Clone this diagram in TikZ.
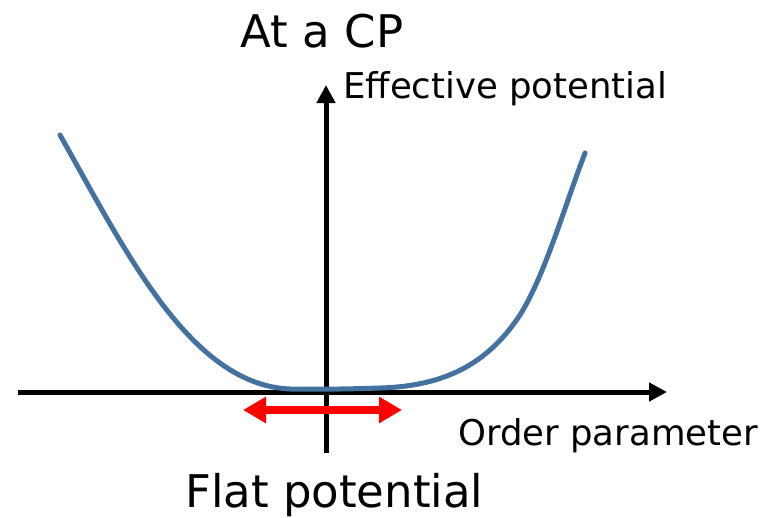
\documentclass[tikz,border=0pt]{standalone}
\usepackage{fontspec}
\setmainfont{DejaVu Sans}
\usetikzlibrary{arrows.meta}

\begin{document}
\begin{tikzpicture}[
  x=1pt, y=-1pt,
  axis/.style={line width=5pt, -{Triangle[length=18pt, width=18pt]}},
  curve/.style={line width=5pt, draw={rgb,255:red,68;green,114;blue,160}, line cap=round},
  flat/.style={line width=8pt, red, {Triangle[length=23pt, width=25pt]}-{Triangle[length=23pt, width=25pt]}},
  big/.style={font=\fontsize{45}{50}\selectfont, inner sep=0pt},
  label/.style={font=\fontsize{35.5}{40}\selectfont, inner sep=0pt}
]
\useasboundingbox (0,0) rectangle (767,517);

% axes
\coordinate (xs) at (18,392);
\coordinate (xe) at (667,392);
\coordinate (ys) at (326,453);
\coordinate (ye) at (326,85);
\draw[axis] (xs) -- (xe);
\draw[axis] (ys) -- (ye);

% potential
\draw[curve] (60,135) .. controls (125,250) and (190,385) .. (290,389)
  .. controls (320,389.5) and (350,389) .. (380,388)
  .. controls (450,386) and (490,360) .. (520,315)
  .. controls (545,275) and (565,205) .. (585,153);

% flat region
\coordinate (fl) at (243,410);
\coordinate (fr) at (402,410);
\draw[flat] (fl) -- (fr);

% labels
\node[big, anchor=base] (title) at (322,47) {At a CP};
\node[label, anchor=base west] (ylab) at (343,98) {Effective potential};
\node[label, anchor=base west] (xlab) at (458,445) {Order parameter};
\node[big, anchor=base west] (flatlab) at (185,507) {Flat potential};
\end{tikzpicture}
\end{document}
